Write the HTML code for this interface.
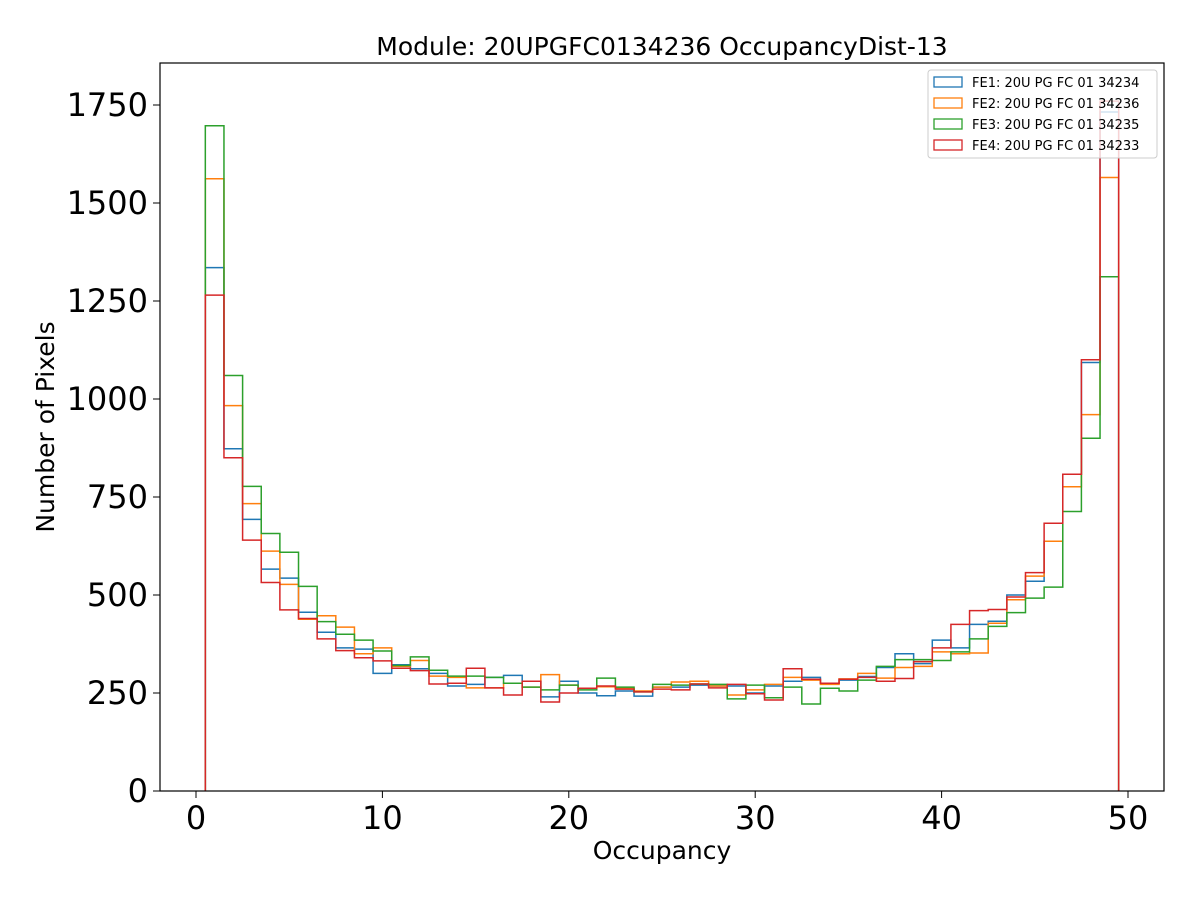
<!DOCTYPE html>
<html><head><meta charset="utf-8"><style>
body{margin:0;background:#fff}
svg text{font-family:"DejaVu Sans","Liberation Sans",sans-serif}
</style></head><body>
<svg id="c" width="1200" height="900" xmlns="http://www.w3.org/2000/svg">
<rect width="1200" height="900" fill="#fff"/>
<g id="plot"></g>
<rect x="160" y="63" width="1004" height="728" fill="none" stroke="#000" stroke-width="1.2"/>
<text x="662" y="55" font-size="25" text-anchor="middle">Module: 20UPGFC0134236 OccupancyDist-13</text>
<text x="662" y="859" font-size="25" text-anchor="middle">Occupancy</text>
<text transform="translate(54,427) rotate(-90)" font-size="25" text-anchor="middle">Number of Pixels</text>
<g id="ticks"></g>
<g id="legend"></g>
</svg>
<script>
const labels=["FE1: 20U PG FC 01 34234","FE2: 20U PG FC 01 34236","FE3: 20U PG FC 01 34235","FE4: 20U PG FC 01 34233"];
const colors=["#1f77b4","#ff7f0e","#2ca02c","#d62728"];
const xTicks=[0,10,20,30,40,50];
const yTicks=[0,250,500,750,1000,1250,1500,1750];
const binStart=0.5;
const blue=[1335,873,693,566,543,456,405,365,362,300,322,312,300,268,272,290,295,280,240,280,250,243,255,242,265,265,270,268,268,250,268,280,290,275,283,292,315,350,325,385,365,425,433,500,535,637,808,1093,1732];
const orange=[1562,983,733,612,527,438,447,418,350,365,318,333,293,290,263,263,275,265,297,270,262,266,262,255,265,278,280,268,245,258,272,290,283,272,286,300,288,315,318,355,350,352,428,488,548,637,776,960,1565];
const green=[1697,1060,777,657,609,522,432,400,385,357,320,342,308,293,293,290,275,265,258,270,258,288,265,253,272,270,273,272,235,270,238,265,222,262,255,283,318,335,335,333,355,388,420,455,492,520,713,900,1312];
const red=[1265,850,640,532,462,440,388,358,340,332,313,307,273,275,313,263,245,280,227,250,262,268,260,253,260,258,273,263,272,248,232,312,285,275,285,290,280,287,330,365,425,460,463,495,557,683,808,1100,1760];
const series=[blue,orange,green,red];
const NS="http://www.w3.org/2000/svg";
const X=v=>196+(v-0)*(1128-196)/50;
const Y=v=>791-v*(791-105)/1750;
const plot=document.getElementById('plot');
series.forEach((s,k)=>{
  let d="M"+X(binStart)+","+Y(0);
  s.forEach((v,i)=>{d+=" L"+X(binStart+i)+","+Y(v)+" L"+X(binStart+i+1)+","+Y(v);});
  d+=" L"+X(binStart+s.length)+","+Y(0);
  const p=document.createElementNS(NS,'path');
  p.setAttribute('d',d);p.setAttribute('fill','none');p.setAttribute('stroke',colors[k]);p.setAttribute('stroke-width','1.5');
  
  
  plot.appendChild(p);
});
const t=document.getElementById('ticks');
xTicks.forEach(v=>{
  const l=document.createElementNS(NS,'line');l.setAttribute('x1',X(v));l.setAttribute('x2',X(v));l.setAttribute('y1',791);l.setAttribute('y2',798);l.setAttribute('stroke','#000');
  
  
  t.appendChild(l);
  const tx=document.createElementNS(NS,'text');tx.setAttribute('x',X(v));tx.setAttribute('y',829);tx.setAttribute('font-size','32');tx.setAttribute('text-anchor','middle');tx.textContent=v;
  
  
  t.appendChild(tx);
});
yTicks.forEach(v=>{
  const l=document.createElementNS(NS,'line');l.setAttribute('x1',153);l.setAttribute('x2',160);l.setAttribute('y1',Y(v));l.setAttribute('y2',Y(v));l.setAttribute('stroke','#000');
  
  
  t.appendChild(l);
  const tx=document.createElementNS(NS,'text');tx.setAttribute('x',148);tx.setAttribute('y',Y(v)+11);tx.setAttribute('font-size','32');tx.setAttribute('text-anchor','end');tx.textContent=v;
  
  
  t.appendChild(tx);
});
const lg=document.getElementById('legend');
const box=document.createElementNS(NS,'rect');
box.setAttribute('x',928);box.setAttribute('y',70);box.setAttribute('width',229);box.setAttribute('height',88);box.setAttribute('rx',3);box.setAttribute('fill','#fff');box.setAttribute('fill-opacity','0.8');box.setAttribute('stroke','#ccc');


lg.appendChild(box);
labels.forEach((lab,k)=>{
  const y=82+k*21;
  const r=document.createElementNS(NS,'rect');r.setAttribute('x',934);r.setAttribute('y',y-5);r.setAttribute('width',28);r.setAttribute('height',10);r.setAttribute('fill','none');r.setAttribute('stroke',colors[k]);r.setAttribute('stroke-width','1.3');
  
  
  lg.appendChild(r);
  const tx=document.createElementNS(NS,'text');tx.setAttribute('x',972);tx.setAttribute('y',y+5);tx.setAttribute('font-size','13');tx.textContent=lab;
  
  
  lg.appendChild(tx);
});
</script>
</body></html>
